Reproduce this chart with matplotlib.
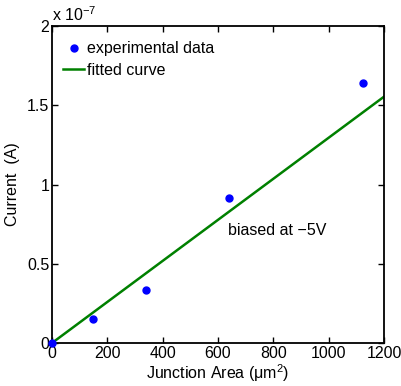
import matplotlib
matplotlib.use("Agg")
import matplotlib.pyplot as plt
import numpy as np

plt.rcParams['font.family'] = ['Liberation Sans', 'DejaVu Sans']
plt.rcParams['mathtext.fontset'] = 'custom'
plt.rcParams['mathtext.rm'] = 'Liberation Sans'
plt.rcParams['mathtext.it'] = 'Liberation Sans'

area = [0, 148, 340, 640, 1125]
current = [0.0, 0.151e-7, 0.334e-7, 0.913e-7, 1.638e-7]
fit_x = [0, 1200]
fit_y = [0.0, 1.554e-7]

xticks = [0, 200, 400, 600, 800, 1000, 1200]
yticks = [0, 0.5, 1, 1.5, 2]
scale = 1e-7

fig = plt.figure(figsize=(4.01, 3.86), dpi=100)
ax = fig.add_axes([52/401, 1-343/386, (384-52)/401, (343-26)/386])

ax.plot(area, [c/scale for c in current], 'o', color='#0000ff', markersize=5,
        label='experimental data', zorder=3, clip_on=False)
ax.plot(fit_x, [f/scale for f in fit_y], '-', color='#008000', lw=1.8,
        label='fitted curve', zorder=2)

ax.set_xlim(0, 1200)
ax.set_ylim(0, 2)
ax.set_xticks(xticks)
ax.set_yticks(yticks)
ax.set_xticklabels([str(t) for t in xticks])
ax.set_yticklabels(['0', '0.5', '1', '1.5', '2'])
ax.tick_params(direction='in', top=True, right=True, length=4, width=1,
               labelsize=11.5, pad=2)
for s in ax.spines.values():
    s.set_linewidth(1.3)

ax.text(0.0, 1.005, r'x 10$^{-7}$', transform=ax.transAxes, fontsize=11.5,
        ha='left', va='bottom')

ax.set_xlabel(r'Junction Area ($\mu$m$^2$)', fontsize=11.5, labelpad=1)
ax.set_ylabel('Current  (A)', fontsize=11.5, labelpad=5)

ax.text(636, 0.707, 'biased at \u22125V', fontsize=11.5, ha='left', va='center')

leg = ax.legend(loc='upper left', bbox_to_anchor=(0.0, 1 - 4/317),
                frameon=False, fontsize=11.5,
                handlelength=1.3, handletextpad=0.2, borderaxespad=0.2,
                labelspacing=0.4, numpoints=1, borderpad=0.5)

fig.savefig('out.png', dpi=100)
